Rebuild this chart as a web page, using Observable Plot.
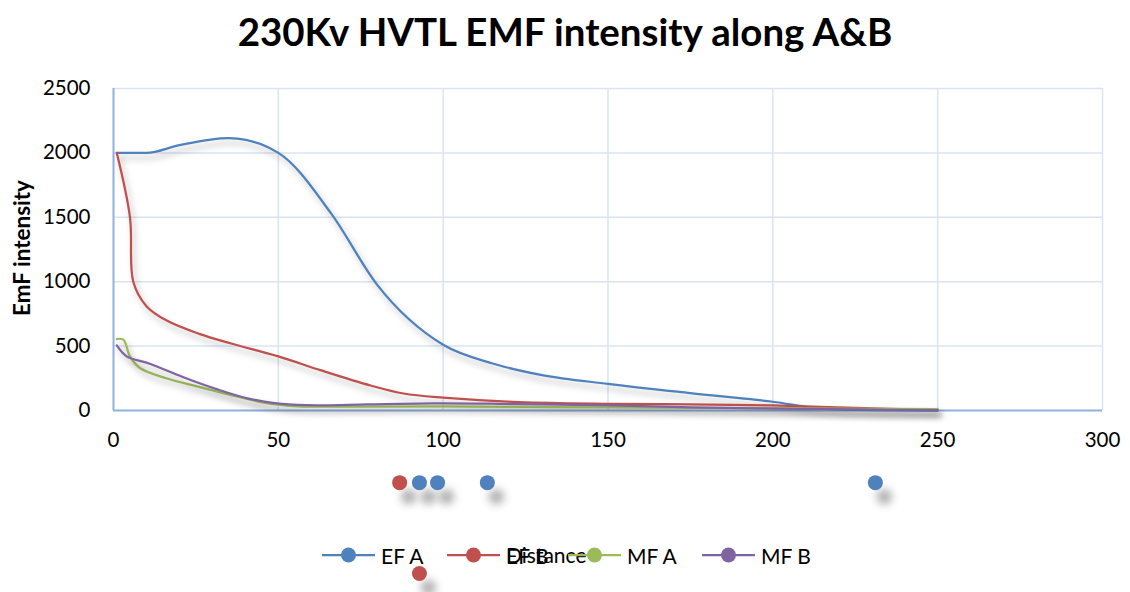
<!DOCTYPE html>
<html>
<head>
<meta charset="utf-8">
<script src="https://cdn.jsdelivr.net/npm/d3@7"></script>
<script src="https://cdn.jsdelivr.net/npm/@observablehq/plot@0.6"></script>
<style>
  html, body { margin: 0; padding: 0; background: #fff; }
  body { font-family: Lato, "Open Sans", sans-serif; color: #000; }
  #wrap { position: relative; width: 1130px; height: 592px; overflow: hidden; }
  #title { position: absolute; top: 6px; left: 0; width: 1130px; text-align: center;
           font-weight: bold; font-size: 38px; white-space: nowrap; line-height: 50px; }
  #title span { display: inline-block; }
  #chart { position: absolute; top: 70px; left: 0; }
  #ylabel { position: absolute; left: 21px; top: 248px; font-weight: bold; font-size: 21px;
            white-space: nowrap; transform: translate(-50%, -50%) rotate(-90deg); }
  #legend { position: absolute; top: 541px; left: 322px; height: 28px; font-size: 21px; }
  .item { position: absolute; top: 0; display: flex; align-items: center; height: 28px; white-space: nowrap; }
  .item svg { display: block; margin-right: 6px; }
  .overlap { position: absolute; left: 59px; top: 0; line-height: 28px; }
  #chart g[aria-label="line"] path { filter: drop-shadow(3px 5px 3px rgba(0,0,0,0.28)); }
  #chart g[aria-label="dot"] circle { filter: drop-shadow(9px 14px 4px rgba(0,0,0,0.32)); }
</style>
</head>
<body>
<div id="wrap">
  <div id="title"><span id="titleText"></span></div>
  <div id="chart"></div>
  <div id="ylabel"></div>
  <div id="legend"></div>
</div>
<script>
// ---- data ----
const titleText = "230Kv HVTL EMF intensity along A&B";
const yLabel = "EmF intensity";
const xLabel = "Distance";
const xTicks = [0, 50, 100, 150, 200, 250, 300];
const yTicks = [0, 500, 1000, 1500, 2000, 2500];
const seriesNames = ["EF A", "EF B", "MF A", "MF B"];
const seriesColors = ["#4F81BD", "#C0504D", "#9BBB59", "#8064A2"];

const efAx = [1, 10, 20, 35, 50, 66, 80, 100, 115, 130, 150, 175, 200, 215, 230, 250];
const efAy = [2000, 2000, 2060, 2115, 2000, 1530, 975, 510, 365, 275, 207, 135, 68, 15, 3, 0];

const efBx = [1, 5, 6, 10, 16, 26, 36, 50, 63, 78, 88, 100, 123, 150, 175, 200, 225, 250];
const efBy = [2000, 1500, 1000, 810, 700, 595, 518, 420, 311, 194, 132, 100, 65, 52, 47, 39, 20, 5];

const mfAx = [1, 3, 5, 8, 16, 26, 36, 46, 56, 70, 100, 150, 200, 250];
const mfAy = [555, 550, 420, 330, 250, 183, 118, 60, 33, 30, 32, 24, 18, 10];

const mfBx = [1, 4, 11, 21, 31, 41, 51, 62, 77, 97, 117, 150, 175, 200, 225, 250];
const mfBy = [505, 420, 363, 260, 168, 92, 52, 40, 47, 55, 52, 40, 25, 15, 8, 2];

// stray markers drawn below the axis in the reference
const strayX = [86.8, 92.8, 98.3, 113.4, 231.1, 92.8];
const strayY = [-560, -560, -560, -560, -560, -1265];
const straySeries = ["EF B", "EF A", "EF A", "EF A", "EF A", "EF B"];

// ---- build table ----
const seriesX = [efAx, efBx, mfAx, mfBx];
const seriesY = [efAy, efBy, mfAy, mfBy];
const rows = [];
seriesNames.forEach((name, i) => {
  seriesX[i].forEach((x, j) => rows.push({series: name, x, y: seriesY[i][j]}));
});
const strays = strayX.map((x, i) => ({x, y: strayY[i], series: straySeries[i]}));

document.getElementById("titleText").textContent = titleText;
document.getElementById("ylabel").textContent = yLabel;

const gridColor = "#D9E4F3";
const axisColor = "#8EB1DE";
const fontFamily = "Lato, 'Open Sans', sans-serif";

const chart = Plot.plot({
  width: 1130,
  height: 522,
  marginLeft: 113,
  marginRight: 28,
  marginTop: 18,
  marginBottom: 0,
  style: {fontFamily, fontSize: "20px", background: "white", overflow: "visible"},
  x: {domain: [0, 300], axis: null},
  y: {domain: [-1413, 2500], axis: null},
  color: {domain: seriesNames, range: seriesColors},
  marks: [
    Plot.ruleY(yTicks.filter(d => d > 0), {y: d => d, x1: 0, x2: 300, stroke: gridColor, strokeWidth: 1.5}),
    Plot.ruleX(xTicks.filter(d => d > 0), {x: d => d, y1: 0, y2: 2500, stroke: gridColor, strokeWidth: 1.5}),
    Plot.ruleX([0], {y1: 0, y2: 2500, stroke: axisColor, strokeWidth: 2}),
    Plot.ruleY([0], {x1: 0, x2: 300, stroke: axisColor, strokeWidth: 2}),
    Plot.text(yTicks, {x: 0, y: d => d, text: d => String(d), textAnchor: "end", dx: -23, fontSize: 20.5, fill: "#000"}),
    Plot.text(xTicks, {x: d => d, y: 0, text: d => String(d), dy: 30, fontSize: 20.5, fill: "#000"}),
    Plot.line(rows.filter(d => d.series === "EF A"), {x: "x", y: "y", stroke: "series", strokeWidth: 2.25, curve: "monotone-x"}),
    Plot.line(rows.filter(d => d.series === "EF B"), {x: "x", y: "y", stroke: "series", strokeWidth: 2.25, curve: "catmull-rom"}),
    Plot.line(rows.filter(d => d.series === "MF A" || d.series === "MF B"), {x: "x", y: "y", z: "series", stroke: "series", strokeWidth: 2.25, curve: "catmull-rom"}),
    Plot.dot(strays, {x: "x", y: "y", fill: "series", r: 7.5})
  ]
});
document.getElementById("chart").appendChild(chart);

// ---- legend ----
const legend = document.getElementById("legend");
const legendLeft = [0, 125, 246, 380];
seriesNames.forEach((name, i) => {
  const item = document.createElement("div");
  item.className = "item";
  item.style.left = legendLeft[i] + "px";
  const c = seriesColors[i];
  item.innerHTML = `<svg width="53" height="20"><line x1="0" y1="10" x2="53" y2="10" stroke="${c}" stroke-width="2.25"/><circle cx="26.5" cy="10" r="7.5" fill="${c}"/></svg><span>${name}</span>`;
  if (name === "EF B") {
    const o = document.createElement("span");
    o.className = "overlap";
    o.textContent = xLabel;
    item.appendChild(o);
  }
  legend.appendChild(item);
});

// fit title width / ylabel height to the reference proportions
function fit() {
  const t = document.getElementById("titleText");
  t.parentNode.style.fontSize = "38px";
  const w = t.getBoundingClientRect().width;
  if (w > 0) t.parentNode.style.fontSize = (38 * 655 / w) + "px";
  const yl = document.getElementById("ylabel");
  yl.style.fontSize = "21px";
  const h = yl.getBoundingClientRect().height;
  if (h > 0) yl.style.fontSize = (21 * 136 / h) + "px";
}
fit();
if (document.fonts && document.fonts.ready) document.fonts.ready.then(fit);
</script>
</body>
</html>
